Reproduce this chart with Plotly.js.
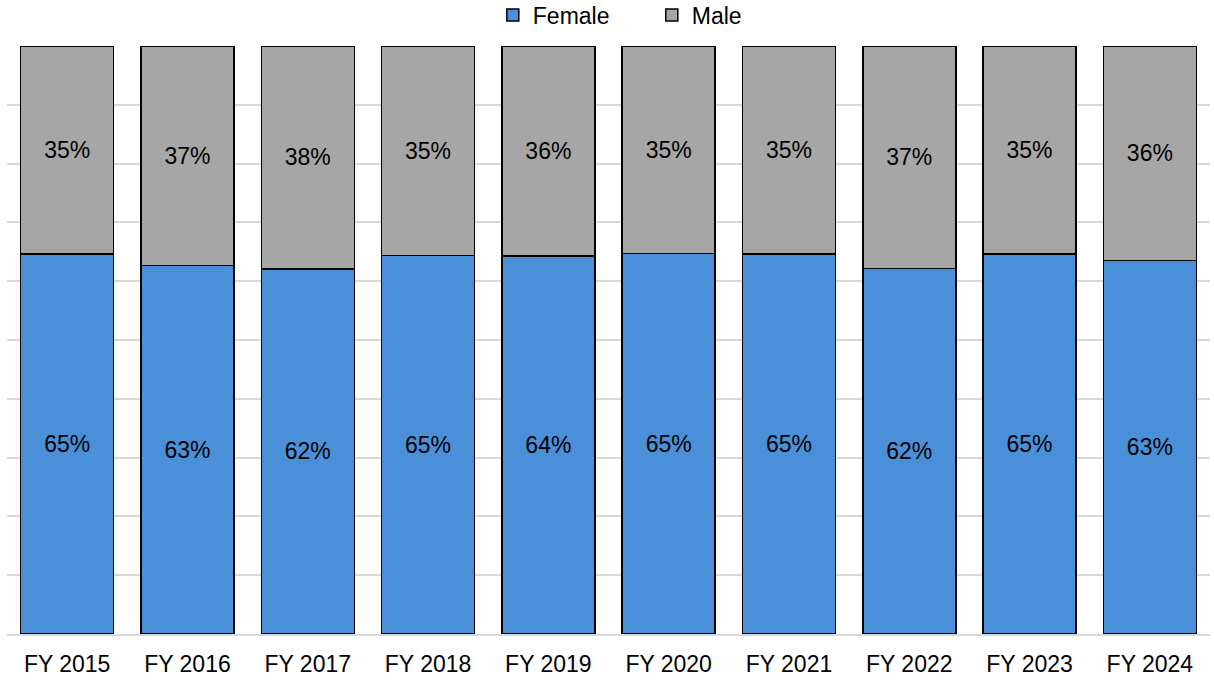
<!DOCTYPE html>
<html>
<head>
<meta charset="utf-8">
<script src="https://cdn.plot.ly/plotly-3.0.1.min.js"></script>
<style>html,body{margin:0;padding:0;background:#fff;}#chart{width:1214px;height:681px;}</style>
</head>
<body>
<div id="chart"></div>
<script>
const categories = ["FY 2015","FY 2016","FY 2017","FY 2018","FY 2019","FY 2020","FY 2021","FY 2022","FY 2023","FY 2024"];
const femaleShare = [0.646,0.627,0.621,0.644,0.643,0.647,0.646,0.622,0.646,0.635];
const maleShare = femaleShare.map(v => 1 - v);
const femaleLabels = ["65%","63%","62%","65%","64%","65%","65%","62%","65%","63%"];
const maleLabels = ["35%","37%","38%","35%","36%","35%","35%","37%","35%","36%"];

const fam = "Liberation Sans, Arial, Helvetica, sans-serif";
const font = {family: fam, size: 23, color: "#000"};

const traces = [
  {type: "bar", name: "Female", x: categories, y: femaleShare, text: femaleLabels,
   textposition: "inside", insidetextanchor: "middle", textangle: 0,
   textfont: {family: fam, size: 23, color: "#000"},
   marker: {color: "#4a90d9", line: {color: "#000", width: 1.5}}, hoverinfo: "x+text"},
  {type: "bar", name: "Male", x: categories, y: maleShare, text: maleLabels,
   textposition: "inside", insidetextanchor: "middle", textangle: 0,
   textfont: {family: fam, size: 23, color: "#000"},
   marker: {color: "#a6a6a6", line: {color: "#000", width: 1.5}}, hoverinfo: "x+text"}
];

const layout = {
  width: 1214, height: 681,
  margin: {l: 7, r: 4, t: 46, b: 47, pad: 0},
  barmode: "stack",
  bargap: 0.227,
  paper_bgcolor: "#fff", plot_bgcolor: "#fff",
  font: font,
  showlegend: true,
  legend: {orientation: "h", x: 0.536, xanchor: "center", xref: "paper",
           y: 0.978, yanchor: "middle", yref: "container",
           font: {family: fam, size: 23, color: "#000"}, itemwidth: 30,
           entrywidth: 114, entrywidthmode: "pixels", traceorder: "normal"},
  xaxis: {type: "category", showgrid: false, showline: true, linecolor: "#d9d9d9", linewidth: 2,
          ticks: "", ticklabelstandoff: 8,
          tickfont: {family: fam, size: 23, color: "#000"}, automargin: false},
  yaxis: {range: [0, 1], dtick: 0.1, showgrid: true, gridcolor: "#d9d9d9", gridwidth: 2,
          showticklabels: false, zeroline: false, ticks: "", fixedrange: true}
};

Plotly.newPlot("chart", traces, layout, {displayModeBar: false, staticPlot: true});
</script>
</body>
</html>
